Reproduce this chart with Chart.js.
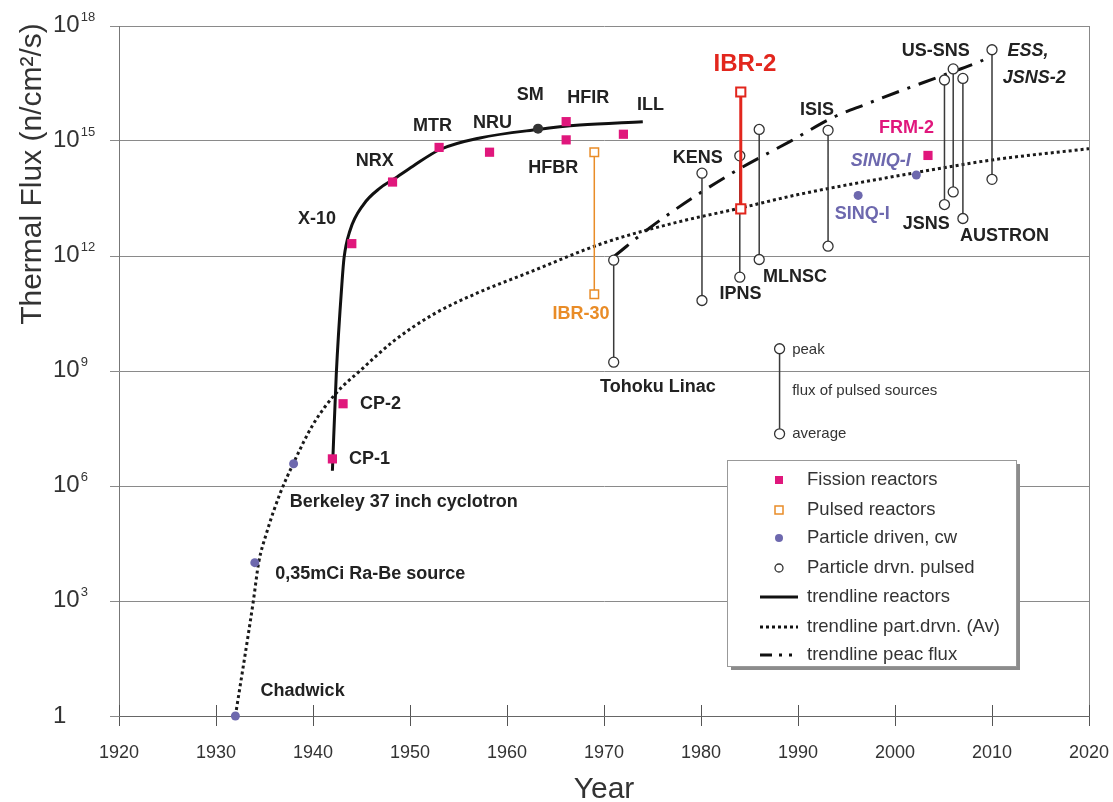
<!DOCTYPE html>
<html>
<head>
<meta charset="utf-8">
<title>Thermal neutron flux of neutron sources</title>
<script src="https://cdn.jsdelivr.net/npm/chart.js@4.4.1/dist/chart.umd.min.js"></script>
<style>
  html, body { margin: 0; padding: 0; background: #fff; }
  #box { width: 1113px; height: 802px; }
</style>
</head>
<body>
<div id="box"><canvas id="fluxChart" width="1113" height="802"></canvas></div>
<script>
// fission reactors (filled squares)
const fissionNames = ['CP-1', 'CP-2', 'X-10', 'NRX', 'MTR', 'NRU', 'HFIR', 'HFBR', 'ILL', 'FRM-2'];
const fissionYears = [1942.0, 1943.1, 1944.0, 1948.2, 1953.0, 1958.2, 1966.1, 1966.1, 1972.0, 2003.4];
const fissionFlux  = [5.1e6, 1.4e8, 2.1e12, 8.5e13, 6.8e14, 5.1e14, 3.2e15, 1.07e15, 1.5e15, 4.2e14];

// SM (dark dot on the reactor trend)
const smYears = [1963.2];
const smFlux  = [2.1e15];

// particle driven, cw
const cwNames = ['Chadwick', 'Ra-Be', 'Berkeley', 'SINQ-I', 'SINIQ-I'];
const cwYears = [1932.0, 1934.0, 1938.0, 1996.2, 2002.2];
const cwFlux  = [1, 1.0e4, 3.8e6, 3.8e13, 1.3e14];

// pulsed reactors: peak / average
const ibr30Years = [1969.0];
const ibr30Peak  = [5.1e14];
const ibr30Avg   = [1.0e11];
const ibr2Years  = [1984.1];
const ibr2Peak   = [1.9e16];
const ibr2Avg    = [1.7e13];

// particle driven pulsed sources: peak / average
const pulsedNames = ['Tohoku Linac', 'KENS', 'IPNS', 'MLNSC', 'ISIS', 'JSNS', 'US-SNS', 'AUSTRON', 'ESS'];
const pulsedYears = [1971.0, 1980.1, 1984.0, 1986.0, 1993.1, 2005.1, 2006.0, 2007.0, 2010.0];
const pulsedPeak  = [7.8e11, 1.45e14, 4.1e14, 2.0e15, 1.9e15, 3.9e16, 7.6e16, 4.3e16, 2.4e17];
const pulsedAvg   = [1.7e9, 6.9e10, 2.8e11, 8.1e11, 1.8e12, 2.2e13, 4.7e13, 9.5e12, 1.0e14];

// key glyph "peak / average"
const keyYears = [1988.1];
const keyPeak  = [3.8e9];
const keyAvg   = [2.3e7];

// trendlines
const reactorTrendYears = [1942.0, 1942.4, 1943.0, 1943.2, 1943.8, 1945.2, 1946.9, 1948.3, 1950.3, 1953.1, 1957.2, 1963.2, 1967.5, 1974.0];
const reactorTrendFlux  = [2.5e6, 8.3e8, 2.2e11, 8.9e11, 4.5e12, 2.2e13, 5.9e13, 1.0e14, 2.2e14, 6.0e14, 1.2e15, 2.0e15, 2.6e15, 3.2e15];
const avTrendYears = [1932.0, 1933.85, 1934.4, 1935.2, 1936.6, 1938.0, 1940.0, 1942.3, 1945.0, 1948.3, 1952.4, 1957.0, 1962.0, 1970.0, 1977.8, 1983.7, 1990.0, 2001.5, 2010.0, 2020.0];
const avTrendFlux  = [1, 1.0e3, 1.0e4, 5.8e4, 6.3e5, 4.0e6, 4.0e7, 2.5e8, 1.1e9, 6.0e9, 3.0e10, 1.1e11, 3.5e11, 2.2e12, 7.9e12, 1.7e13, 4.0e13, 1.4e14, 3.2e14, 6.3e14];
const peakTrendYears = [1971.1, 1974.7, 1979.9, 1984.0, 1989.2, 1993.6, 1997.0, 2000.5, 2005.0, 2008.8, 2009.8];
const peakTrendFlux  = [1.0e12, 5.4e12, 4.4e13, 1.9e14, 9.8e14, 4.1e15, 9.1e15, 2.0e16, 5.2e16, 1.2e17, 1.6e17];

// axes
const yearMin = 1920, yearMax = 2020, yearStep = 10;
const fluxTickExponents = [0, 3, 6, 9, 12, 15, 18];
const xTitle = 'Year';
const yTitle = 'Thermal Flux (n/cm\u00B2/s)';

// text labels next to the points (anchor = left/middle, in year / log10 flux)
const labelTexts = ['Chadwick', '0,35mCi Ra-Be source', 'Berkeley 37 inch cyclotron', 'CP-1', 'CP-2', 'X-10', 'NRX', 'MTR', 'NRU', 'SM', 'HFIR', 'HFBR', 'ILL',
  'IBR-30', 'IBR-2', 'KENS', 'IPNS', 'MLNSC', 'Tohoku Linac', 'ISIS', 'FRM-2', 'SINIQ-I', 'SINQ-I', 'JSNS', 'AUSTRON', 'US-SNS', 'ESS,', 'JSNS-2',
  'peak', 'flux of pulsed sources', 'average'];
const labelYears = [1934.6, 1936.1, 1937.6, 1943.7, 1944.85, 1938.45, 1944.4, 1950.3, 1956.5, 1961.0, 1966.2, 1962.2, 1973.4,
  1964.7, 1981.3, 1977.1, 1981.9, 1986.4, 1969.6, 1990.2, 1998.35, 1995.45, 1993.8, 2000.8, 2006.7, 2000.7, 2011.6, 2011.1,
  1989.4, 1989.4, 1989.4];
const labelExps = [0.65, 3.70, 5.57, 6.71, 8.14, 12.96, 14.49, 15.40, 15.46, 16.21, 16.13, 14.29, 15.95,
  10.49, 16.99, 14.55, 11.01, 11.45, 8.59, 15.82, 15.33, 14.47, 13.09, 12.83, 12.52, 17.36, 17.36, 16.65,
  9.55, 8.48, 7.36];
const labelKinds = ['b', 'b', 'b', 'b', 'b', 'b', 'b', 'b', 'b', 'b', 'b', 'b', 'b',
  'orange', 'red', 'b', 'b', 'b', 'b', 'b', 'magenta', 'purpleItalic', 'purple', 'b', 'b', 'b', 'italic', 'italic',
  'note', 'note', 'note'];

// legend entries
const legendMarkers = ['Fission reactors', 'Pulsed reactors', 'Particle driven, cw', 'Particle drvn. pulsed'];
const legendLines = ['trendline reactors', 'trendline part.drvn. (Av)', 'trendline peac flux'];

const FONT = "'Liberation Sans', Arial, Helvetica, sans-serif";
const MAGENTA = '#e0177c', ORANGE = '#e98c27', RED = '#e2261d', PURPLE = '#6d68ae', INK = '#222';

const labelStyles = {
  b:            { font: 'bold 18px ' + FONT, color: INK },
  italic:       { font: 'italic bold 18px ' + FONT, color: INK },
  orange:       { font: 'bold 18px ' + FONT, color: ORANGE },
  red:          { font: 'bold 24px ' + FONT, color: RED },
  magenta:      { font: 'bold 18px ' + FONT, color: MAGENTA },
  purple:       { font: 'bold 18px ' + FONT, color: PURPLE },
  purpleItalic: { font: 'italic bold 18px ' + FONT, color: PURPLE },
  note:         { font: '15px ' + FONT, color: '#333' }
};

function pts(xs, ys) {
  return xs.map((v, i) => ({ x: v, y: ys[i] }));
}
// vertical peak-average segments, separated by gaps
function bars(xs, top, bottom) {
  return xs.flatMap((v, i) => [{ x: v, y: top[i] }, { x: v, y: bottom[i] }, { x: v, y: null }]);
}

const extras = {
  id: 'extras',
  afterDraw(chart) {
    const { ctx, chartArea: area, scales } = chart;
    const xs = scales.x, ys = scales.y;
    ctx.save();

    // right frame
    ctx.strokeStyle = '#888';
    ctx.lineWidth = 1;
    ctx.beginPath();
    ctx.moveTo(Math.round(area.right) + 0.5, area.top);
    ctx.lineTo(Math.round(area.right) + 0.5, area.bottom);
    ctx.stroke();

    // x tick marks also reach into the plot
    ctx.strokeStyle = '#555';
    xs.ticks.forEach(t => {
      const px = Math.round(xs.getPixelForValue(t.value)) + 0.5;
      ctx.beginPath();
      ctx.moveTo(px, area.bottom - 11);
      ctx.lineTo(px, area.bottom);
      ctx.stroke();
    });

    // y tick labels with superscript exponents
    ctx.fillStyle = '#333';
    ctx.textAlign = 'left';
    ctx.textBaseline = 'middle';
    ys.ticks.forEach(t => {
      const e = Math.round(Math.log10(t.value));
      const py = ys.getPixelForValue(t.value);
      ctx.font = '24px ' + FONT;
      if (e === 0) {
        ctx.fillText('1', 53, py);
        return;
      }
      ctx.fillText('10', 53, py - 1);
      const w = ctx.measureText('10').width;
      ctx.font = '13px ' + FONT;
      ctx.fillText(String(e), 53 + w + 1, py - 9);
    });

    // y title
    ctx.save();
    ctx.translate(33, 174);
    ctx.rotate(-Math.PI / 2);
    ctx.font = '30px ' + FONT;
    ctx.textAlign = 'center';
    ctx.fillText(yTitle, 0, 0);
    ctx.restore();

    // point labels
    ctx.textAlign = 'left';
    ctx.textBaseline = 'middle';
    labelTexts.forEach((txt, i) => {
      const st = labelStyles[labelKinds[i]];
      ctx.font = st.font;
      ctx.fillStyle = st.color;
      ctx.fillText(txt, xs.getPixelForValue(labelYears[i]), ys.getPixelForValue(Math.pow(10, labelExps[i])));
    });

    // legend box with shadow
    const L = { x: 727, y: 460, w: 289, h: 206 };
    ctx.fillStyle = '#8c8c8c';
    ctx.fillRect(L.x + 4, L.y + 4, L.w, L.h);
    ctx.fillStyle = '#fff';
    ctx.fillRect(L.x, L.y, L.w, L.h);
    ctx.strokeStyle = '#999';
    ctx.lineWidth = 1;
    ctx.strokeRect(L.x + 0.5, L.y + 0.5, L.w, L.h);

    const mx = 779, tx = 807;
    const rowsM = [480, 510, 538, 568];
    // fission
    ctx.fillStyle = MAGENTA;
    ctx.fillRect(mx - 4, rowsM[0] - 4, 8, 8);
    // pulsed reactor
    ctx.strokeStyle = ORANGE;
    ctx.lineWidth = 1.5;
    ctx.fillStyle = '#fff';
    ctx.fillRect(mx - 4, rowsM[1] - 4, 8, 8);
    ctx.strokeRect(mx - 4, rowsM[1] - 4, 8, 8);
    // cw
    ctx.fillStyle = PURPLE;
    ctx.beginPath();
    ctx.arc(mx, rowsM[2], 4, 0, Math.PI * 2);
    ctx.fill();
    // pulsed particle
    ctx.strokeStyle = '#333';
    ctx.lineWidth = 1.3;
    ctx.beginPath();
    ctx.arc(mx, rowsM[3], 4, 0, Math.PI * 2);
    ctx.stroke();

    const rowsL = [597, 627, 655];
    ctx.strokeStyle = '#111';
    ctx.lineWidth = 3;
    ctx.beginPath();
    ctx.moveTo(760, rowsL[0]); ctx.lineTo(798, rowsL[0]);
    ctx.stroke();
    ctx.setLineDash([3, 3]);
    ctx.beginPath();
    ctx.moveTo(760, rowsL[1]); ctx.lineTo(798, rowsL[1]);
    ctx.stroke();
    ctx.setLineDash([12, 7, 3, 7, 3, 20]);
    ctx.beginPath();
    ctx.moveTo(760, rowsL[2]); ctx.lineTo(798, rowsL[2]);
    ctx.stroke();
    ctx.setLineDash([]);

    ctx.fillStyle = '#333';
    ctx.font = '18.5px ' + FONT;
    legendMarkers.forEach((t, i) => ctx.fillText(t, tx, rowsM[i]));
    legendLines.forEach((t, i) => ctx.fillText(t, tx, rowsL[i]));

    ctx.restore();
  }
};

const openCircle = {
  pointStyle: 'circle', pointRadius: 5, pointBackgroundColor: '#fff',
  pointBorderColor: '#333', pointBorderWidth: 1.3
};

new Chart(document.getElementById('fluxChart'), {
  type: 'scatter',
  data: {
    datasets: [
      {
        label: 'SM', data: pts(smYears, smFlux),
        pointStyle: 'circle', pointRadius: 5, backgroundColor: '#333', borderWidth: 0
      },
      {
        label: 'Fission reactors', data: pts(fissionYears, fissionFlux),
        pointStyle: 'rect', pointRadius: 6.5, backgroundColor: MAGENTA, borderWidth: 0
      },
      {
        label: 'Particle driven, cw', data: pts(cwYears, cwFlux),
        pointStyle: 'circle', pointRadius: 4.5, backgroundColor: PURPLE, borderWidth: 0
      },
      {
        label: 'IBR-2', data: bars(ibr2Years, ibr2Peak, ibr2Avg), showLine: true,
        borderColor: RED, borderWidth: 3,
        pointStyle: 'rect', pointRadius: 6.5, pointBackgroundColor: '#fff',
        pointBorderColor: RED, pointBorderWidth: 2
      },
      Object.assign({
        label: 'Particle drvn. pulsed', data: bars(pulsedYears, pulsedPeak, pulsedAvg), showLine: true,
        borderColor: '#3a3a3a', borderWidth: 1.5
      }, openCircle),
      Object.assign({
        label: 'key', data: bars(keyYears, keyPeak, keyAvg), showLine: true,
        borderColor: '#3a3a3a', borderWidth: 1.5
      }, openCircle),
      {
        label: 'Pulsed reactors', data: bars(ibr30Years, ibr30Peak, ibr30Avg), showLine: true,
        borderColor: ORANGE, borderWidth: 1.5,
        pointStyle: 'rect', pointRadius: 6, pointBackgroundColor: '#fff',
        pointBorderColor: ORANGE, pointBorderWidth: 1.5
      },
      {
        label: 'trendline reactors', data: pts(reactorTrendYears, reactorTrendFlux), showLine: true,
        borderColor: '#111', borderWidth: 3, pointRadius: 0, cubicInterpolationMode: 'monotone'
      },
      {
        label: 'trendline part.drvn. (Av)', data: pts(avTrendYears, avTrendFlux), showLine: true,
        borderColor: '#1a1a1a', borderWidth: 3, borderDash: [3, 3], pointRadius: 0,
        cubicInterpolationMode: 'monotone'
      },
      {
        label: 'trendline peac flux', data: pts(peakTrendYears, peakTrendFlux), showLine: true,
        borderColor: '#111', borderWidth: 3, borderDash: [18, 9, 3, 9], pointRadius: 0,
        cubicInterpolationMode: 'monotone'
      }
    ]
  },
  options: {
    responsive: false,
    animation: false,
    events: [],
    clip: false,
    layout: { padding: { left: 0, right: 24, top: 26, bottom: 0 } },
    plugins: { legend: { display: false }, tooltip: { enabled: false } },
    scales: {
      x: {
        type: 'linear',
        min: yearMin,
        max: yearMax,
        afterFit: s => { s.height = 86; s.paddingLeft = 0; s.paddingRight = 0; },
        ticks: {
          stepSize: yearStep,
          padding: 16,
          color: '#333',
          font: { family: FONT, size: 18 },
          callback: v => String(v)
        },
        grid: { drawOnChartArea: false, tickLength: 10, color: '#555' },
        border: { display: true, color: '#666', width: 1 },
        title: {
          display: true, text: xTitle, color: '#333',
          font: { family: FONT, size: 30, lineHeight: 0.8 },
          padding: { top: 0, bottom: 0 }
        }
      },
      y: {
        type: 'logarithmic',
        min: 1,
        max: 1e18,
        afterFit: s => { s.width = 119; },
        afterBuildTicks: s => { s.ticks = fluxTickExponents.map(e => ({ value: Math.pow(10, e) })); },
        ticks: { display: false },
        grid: { color: '#8a8a8a', lineWidth: 1, tickLength: 9 },
        border: { display: true, color: '#777', width: 1 }
      }
    }
  },
  plugins: [extras]
});
</script>
</body>
</html>
